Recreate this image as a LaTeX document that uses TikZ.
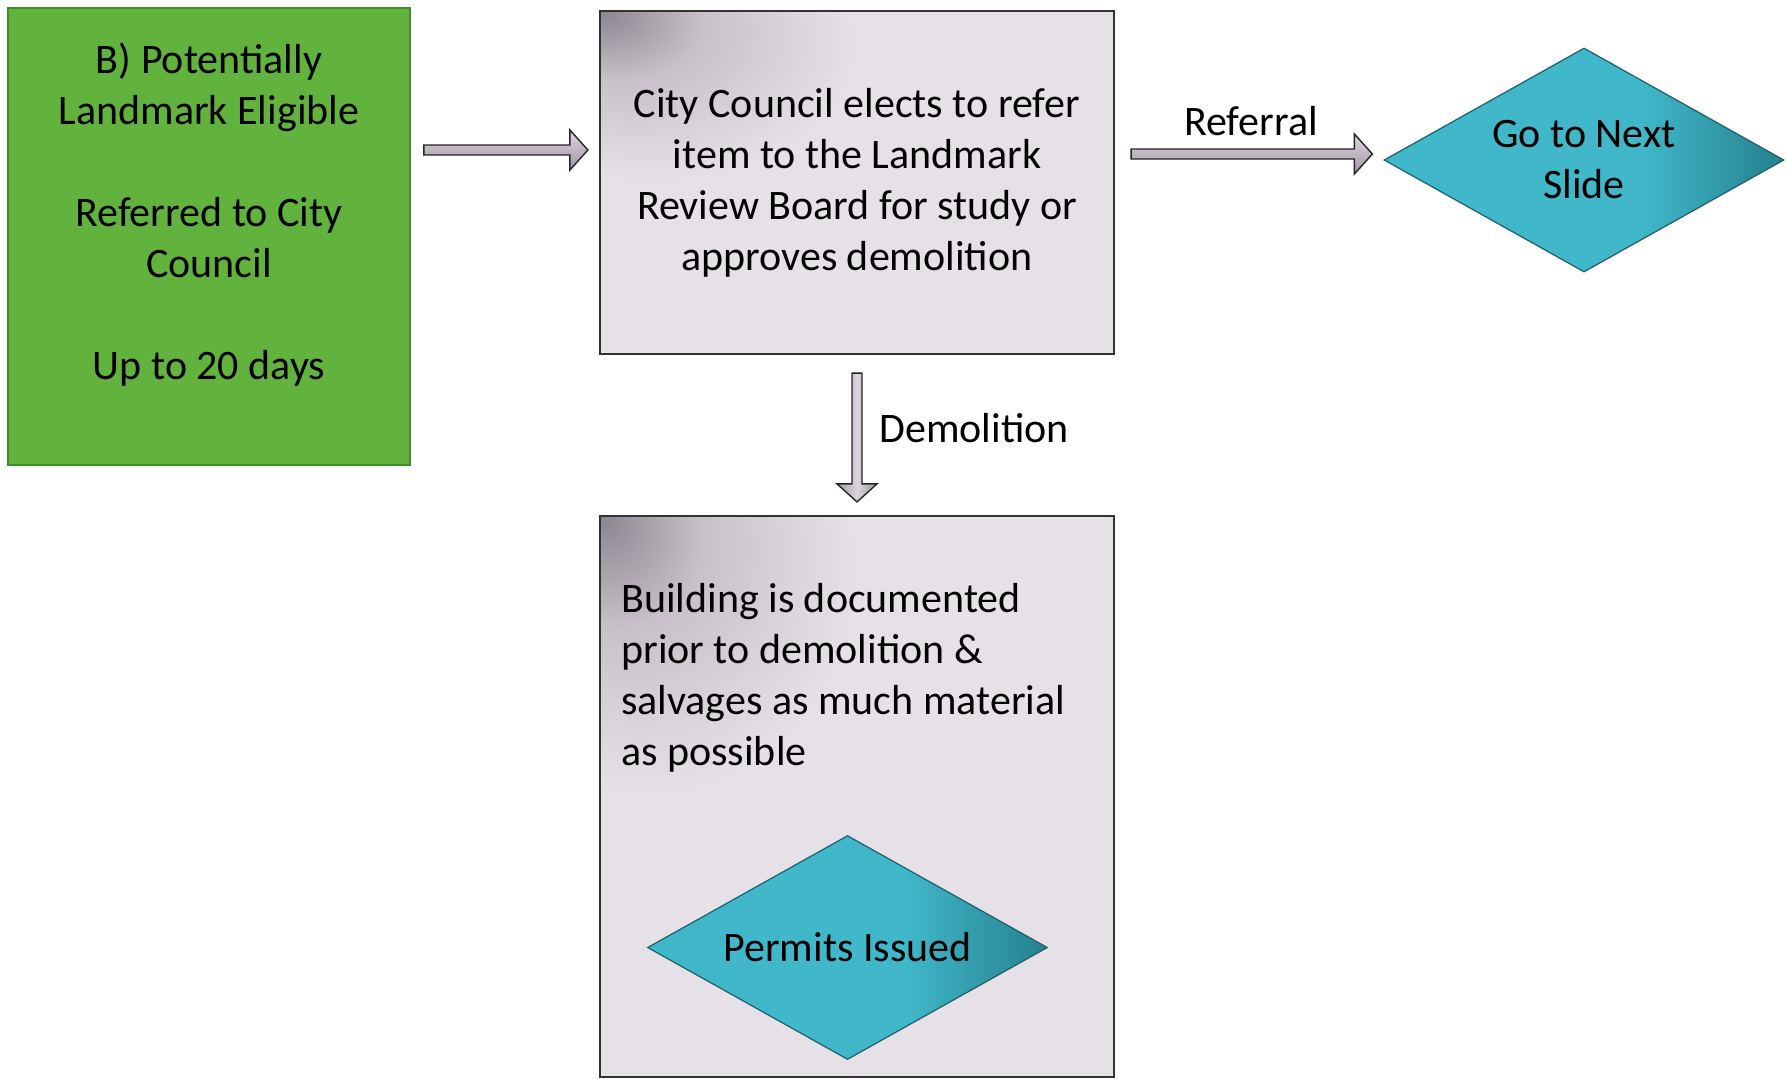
\documentclass[tikz,border=0pt]{standalone}
\usepackage{fontspec}
\setmainfont{Carlito}
\usetikzlibrary{shapes.geometric,calc}

\definecolor{greenfill}{RGB}{98,178,62}
\definecolor{greenline}{RGB}{62,140,42}
\definecolor{boxfill}{RGB}{230,225,231}
\definecolor{boxmid}{RGB}{200,193,201}
\definecolor{boxdark}{RGB}{140,132,142}
\definecolor{tealA}{RGB}{64,184,202}
\definecolor{tealB}{RGB}{38,128,142}
\definecolor{tealline}{RGB}{28,96,108}
\definecolor{arrowlight}{RGB}{222,212,222}
\definecolor{arrowdark}{RGB}{160,150,162}

\pgfdeclareradialshading{cornershade}{\pgfpoint{-25bp}{25bp}}{color(0bp)=(boxdark); color(8bp)=(boxmid); color(20bp)=(boxfill); color(100bp)=(boxfill)}
\pgfdeclarehorizontalshading{tealshade}{100bp}{color(0bp)=(tealA); color(25bp)=(tealA); color(57bp)=(tealA); color(75bp)=(tealB); color(100bp)=(tealB)}
\newcommand{\boxfont}{\fontsize{21}{25.5}\selectfont}

\tikzset{
  greenbox/.style={rectangle,draw=greenline,line width=0.8pt,fill=greenfill,inner sep=0pt,
    minimum width=201pt,minimum height=228.5pt,align=center,font=\boxfont},
  graybox/.style={rectangle,draw=black!80,line width=1.1pt,shade,shading=cornershade,inner sep=0pt,
    minimum width=257pt,align=center,font=\boxfont},
  decision/.style={diamond,draw=tealline,line width=0.6pt,shade,shading=tealshade,
    shape aspect=1.79,inner sep=0pt,minimum width=200pt,minimum height=112pt,align=center,font=\boxfont},
  lbl/.style={font=\boxfont,inner sep=0pt},
  fatarrow/.style={draw=black!85,line width=0.7pt,to path={
    ($(\tikztostart)!2.5pt!90:(\tikztotarget)$)
    -- ($(\tikztotarget)!9pt!(\tikztostart)!2.5pt!90:(\tikztotarget)$)
    -- ($(\tikztotarget)!9pt!(\tikztostart)!10pt!90:(\tikztotarget)$)
    -- (\tikztotarget)
    -- ($(\tikztotarget)!9pt!(\tikztostart)!10pt!-90:(\tikztotarget)$)
    -- ($(\tikztotarget)!9pt!(\tikztostart)!2.5pt!-90:(\tikztotarget)$)
    -- ($(\tikztostart)!2.5pt!-90:(\tikztotarget)$) -- cycle}}
}

\begin{document}
\begin{tikzpicture}[x=0.5pt,y=-0.5pt]
            \fill[white] (0,0) rectangle (1786,1078);
            \useasboundingbox (0,0) rectangle (1786,1078);

            \node[greenbox] (eligible) at (209,236.5) {B) Potentially\\Landmark Eligible\\[25.5pt]Referred to City\\Council\\[25.5pt]Up to 20 days\\\mbox{}};
            \node[graybox,minimum height=171.5pt] (council) at (857,182.5) {City Council elects to refer\\item to the Landmark\\Review Board for study or\\approves demolition};
            \node[decision] (nextslide) at (1584,160) {Go to Next\\Slide};
            \node[graybox,minimum height=280.5pt] (building) at (857,796.5) {};
            % base of a multi-line node is its last line
            \node[lbl,anchor=base west,align=left] (documented) at ([xshift=11pt,yshift=-125.5pt]building.north west) {Building is documented\\prior to demolition \&\\salvages as much material\\as possible};
            \node[decision] (permits) at (847.5,947.5) {Permits Issued};

            \node[lbl,anchor=base] (referral) at (1251,135) {Referral};
            \node[lbl,anchor=base west] (demolition) at (879,442) {Demolition};

            %now the arrows
            \draw[fatarrow,top color=arrowlight,bottom color=arrowdark] ([xshift=6.5pt,yshift=43.25pt]eligible.east) to ([xshift=-5.5pt,yshift=16.25pt]council.west);
            \draw[fatarrow,top color=arrowlight,bottom color=arrowdark] ([xshift=8pt,yshift=14.25pt]council.east) to ([xshift=-5.5pt,yshift=3pt]nextslide.west);
            \draw[fatarrow,left color=arrowdark,right color=arrowdark,middle color=arrowlight] ([yshift=-9pt]council.south) to ([yshift=6.5pt]building.north);

        \end{tikzpicture}
\end{document}
